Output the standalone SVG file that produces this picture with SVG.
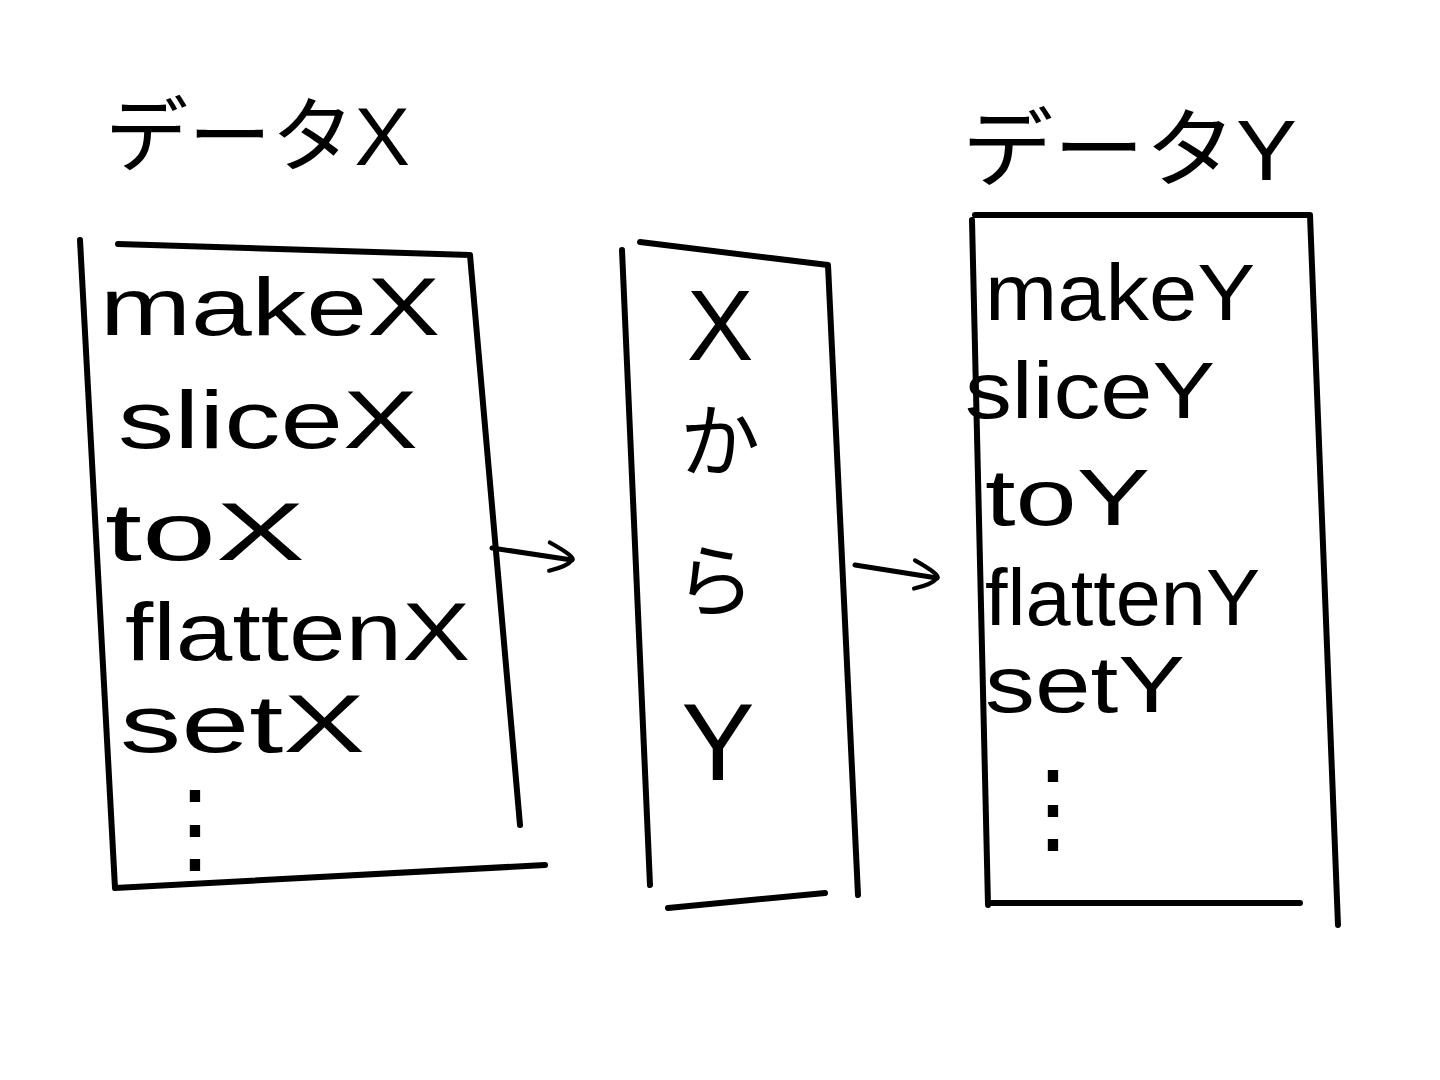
<svg xmlns="http://www.w3.org/2000/svg" width="1440" height="1080" viewBox="0 0 1440 1080">
<style>
.box{fill:none;stroke:#000;stroke-width:6;stroke-linecap:round;stroke-linejoin:round}
.t{font-family:"Liberation Sans","Noto Sans CJK JP",sans-serif;fill:#000}
.con{fill:none;stroke:#000;stroke-width:5;stroke-linecap:round}
</style>
<defs>
<marker id="ah" viewBox="0 0 10 10" refX="8" refY="5" markerWidth="7" markerHeight="7" orient="auto" markerUnits="strokeWidth">
<path d="M1,1 Q9,4 8,5 Q7,7 2,9" fill="none" stroke="#000" stroke-width="1.2" stroke-linecap="round"/>
</marker>
</defs>
<rect width="1440" height="1080" fill="#fff"/>
<g id="title-x"><text class="t" x="105" y="165" font-size="82" textLength="305" lengthAdjust="spacingAndGlyphs">データX</text></g>
<g id="title-y"><text class="t" x="962" y="180" font-size="86" textLength="335" lengthAdjust="spacingAndGlyphs">データY</text></g>
<g id="data-x">
<path class="box" d="M80,240 L115,888 M118,244 L470,255 L520,825 M115,888 L545,865"/>
<text class="t" x="100" y="335" font-size="82" textLength="340" lengthAdjust="spacingAndGlyphs">makeX</text>
<text class="t" x="118" y="448" font-size="82" textLength="300" lengthAdjust="spacingAndGlyphs">sliceX</text>
<text class="t" x="105" y="560" font-size="82" textLength="200" lengthAdjust="spacingAndGlyphs">toX</text>
<text class="t" x="125" y="660" font-size="82" textLength="345" lengthAdjust="spacingAndGlyphs">flattenX</text>
<text class="t" x="120" y="752" font-size="82" textLength="245" lengthAdjust="spacingAndGlyphs">setX</text>
<text class="t" x="145" y="862" font-size="100">⋮</text>
</g>
<g id="middle">
<path class="box" d="M622,250 L650,885 M640,242 L828,265 L858,895 M668,908 L825,893"/>
<text class="t" x="720" y="360" font-size="100" text-anchor="middle">X</text>
<text class="t" x="720" y="470" font-size="80" text-anchor="middle">か</text>
<text class="t" x="715" y="610" font-size="80" text-anchor="middle">ら</text>
<text class="t" x="718" y="780" font-size="110" text-anchor="middle">Y</text>
</g>
<g id="data-y">
<path class="box" d="M972,220 L988,905 M975,215 L1310,215 L1338,925 M988,903 L1300,903"/>
<text class="t" x="985" y="320" font-size="80" textLength="270" lengthAdjust="spacingAndGlyphs">makeY</text>
<text class="t" x="965" y="418" font-size="80" textLength="250" lengthAdjust="spacingAndGlyphs">sliceY</text>
<text class="t" x="985" y="525" font-size="80" textLength="165" lengthAdjust="spacingAndGlyphs">toY</text>
<text class="t" x="985" y="625" font-size="80" textLength="275" lengthAdjust="spacingAndGlyphs">flattenY</text>
<text class="t" x="985" y="712" font-size="80" textLength="200" lengthAdjust="spacingAndGlyphs">setY</text>
<text class="t" x="1003" y="842" font-size="100">⋮</text>
</g>
<g id="connectors">
<path class="con" d="M492,548 L572,560" marker-end="url(#ah)"/>
<path class="con" d="M855,565 L937,578" marker-end="url(#ah)"/>
</g>
</svg>
